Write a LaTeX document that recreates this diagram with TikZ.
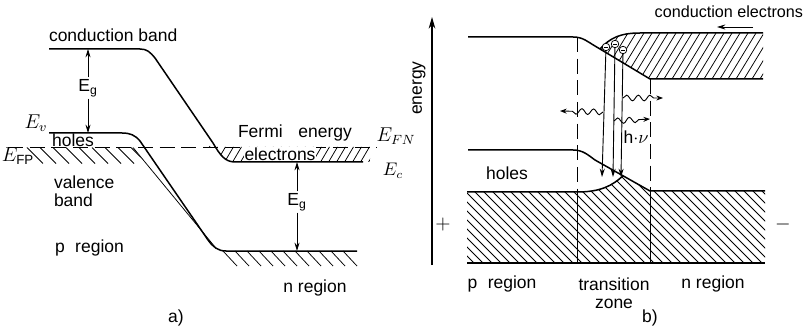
\documentclass[tikz,border=0pt]{standalone}
\usepackage{amsmath,amssymb}
\usepackage{fontspec}
\setsansfont{Liberation Sans}
\usepackage{tikz}
\usetikzlibrary{arrows.meta,calc,decorations.pathmorphing}

\begin{document}
\begin{tikzpicture}[x=0.6pt,y=-0.6pt,
    font=\sffamily\fontsize{10.5}{11}\selectfont,
    band/.style={line width=0.9pt},
    hatchline/.style={line width=0.45pt},
    fermi/.style={line width=0.55pt,dash pattern=on 9pt off 4pt},
    egarrow/.style={-{Stealth[length=5pt,width=3pt]},line width=0.55pt},
    lbl/.style={inner sep=1pt},
    photon/.style={decorate,decoration={snake,amplitude=1.7pt,segment length=7pt,post length=4pt},
      -{Stealth[length=4pt,width=3pt]},line width=0.55pt},
    electron/.style={circle,draw,fill=white,minimum size=4.5pt,inner sep=0pt,line width=0.45pt,
      path picture={\draw[line width=0.4pt]
        ($(path picture bounding box.west)!0.25!(path picture bounding box.east)$) --
        ($(path picture bounding box.west)!0.75!(path picture bounding box.east)$);}}]
      \useasboundingbox (0,0) rectangle (809,330);

      % ---- a) ----
      \draw[fermi] (8,147) -- (377,147);
      \begin{scope}
        \clip (20,147.5) -- (133,147.5) -- (150,170) -- (20,170) -- cycle;
        \foreach \x in {27,40,...,140} \draw[hatchline] (\x,147.5) -- ++(16,16);
      \end{scope}
      \draw[hatchline] (133,147.5) -- (215,247);
      \foreach \x in {223,235,...,347} \draw[hatchline] (\x,251) -- ++(14,15);
      \begin{scope}
        \clip (205,147) -- (370,147) -- (370,162) -- (235,162) .. controls (225,162) and (219,155) .. (213,143) -- cycle;
        \foreach \x in {200,208,...,370} \draw[hatchline] (\x,163) -- ++(10,-17);
      \end{scope}
      \draw[band] (49,49) -- (140,49) .. controls (147,49) and (150,52) .. (155,58) -- (213,143)
        .. controls (220,155) and (225,162) .. (235,162) -- (363,162);
      \draw[band] (49,133) -- (122,133) .. controls (130,133) and (135,135) .. (140,141) -- (208,240)
        .. controls (213,247) and (218,251) .. (226,251) -- (357,251);

      \node[lbl,anchor=west] (cband) at (47,35) {conduction band};
      \coordinate (cbp) at (88,49);
      \coordinate (vbp) at (88,133);
      \node[lbl] (egp) at (88,88) {E\textsubscript{g}};
      \draw[egarrow] (egp) -- (cbp);
      \draw[egarrow] (egp) -- (vbp);
      \node (ev) at (36,123) {\large$E_v$};
      \node[lbl] (holesa) at (73,140) {holes};
      \node (efp) at (18,156) {\large$E_{\mathsf{FP}}$};
      \node[lbl,anchor=west,align=left] (vband) at (52,191) {valence\\band};
      \node[lbl,anchor=west] (prega) at (53,248) {p\hspace{0.6em}region};
      \node[lbl] (fenergy) at (295,133) {Fermi\hspace{0.9em}energy};
      \node[lbl,fill=white,inner sep=0.3pt] (elec) at (280,154) {electrons};
      \node (efn) at (396,136) {\large$E_{FN}$};
      \node (ec) at (393,171) {$E_c$};
      \coordinate (cbn) at (297,162);
      \coordinate (vbn) at (297,251);
      \node[lbl] (egn) at (297,202) {E\textsubscript{g}};
      \draw[egarrow] (egn) -- (cbn);
      \draw[egarrow] (egn) -- (vbn);
      \node[lbl] (nrega) at (315,288) {n region};
      \node (capa) at (176,318) {a)};

      % ---- b) ----
      \coordinate (axbot) at (432,265);
      \coordinate (axtop) at (432,17);
      \draw[-{Stealth[length=7pt,width=4pt]},line width=0.65pt] (axbot) -- (axtop);
      \node[rotate=90] (energy) at (419,88) {energy};

      \begin{scope}
        \clip (600,49) .. controls (610,38) and (620,33) .. (640,33) -- (763,33) -- (763,79) -- (650,79) -- cycle;
        \foreach \x in {560,568,...,770} \draw[hatchline] (\x,79) -- ++(28,-46);
      \end{scope}
      \begin{scope}
        \clip (467,192) -- (577,192) .. controls (600,192) and (612,186) .. (623,175.8) -- (650,191)
          -- (765,191) -- (765,263) -- (467,263) -- cycle;
        \foreach \x in {370,379,...,770} \draw[hatchline] (\x,168) -- ++(97,97);
      \end{scope}

      \draw[band] (468,37) -- (573,37) .. controls (583,37) and (588,42) .. (595,46) -- (650,79) -- (763,79);
      \draw[band] (600,49) .. controls (610,38) and (620,33) .. (640,33) -- (763,33);
      \draw[band] (468,150) -- (573,150) .. controls (583,150) and (588,155) .. (595,160) -- (650,191) -- (765,191);
      \draw[band] (467,192) -- (577,192) .. controls (600,192) and (612,186) .. (623,175.8);
      \draw[band] (467,263) -- (765,263);

      \draw[fermi] (577,37) -- (577,192);
      \draw[hatchline] (577,192) -- (577,263);
      \draw[fermi] (650,79) -- (650,191);
      \draw[hatchline] (650,191) -- (650,263);

      \node[electron] (e1) at (606,47) {};
      \node[electron] (e2) at (615,44) {};
      \node[electron] (e3) at (623,50) {};
      \coordinate (h1) at (602,177);
      \coordinate (h2) at (613,177);
      \coordinate (h3) at (621,177);
      \draw[egarrow] (e1) -- (h1);
      \draw[egarrow] (e2) -- (h2);
      \draw[egarrow] (e3) -- (h3);

      \coordinate (p1s) at (603,112);
      \coordinate (p1e) at (560,111);
      \coordinate (p2s) at (623,98);
      \coordinate (p2e) at (663,98);
      \coordinate (p3s) at (614,121);
      \coordinate (p3e) at (650,119);
      \draw[photon] (p1s) -- (p1e);
      \draw[photon] (p2s) -- (p2e);
      \draw[photon] (p3s) -- (p3e);
      \node[lbl] (hnu) at (636,137) {h$\cdot\nu$};

      \node[lbl,anchor=east,font=\sffamily\fontsize{9.7}{11}\selectfont] (celec) at (805,12) {conduction electrons};
      \coordinate (cea) at (753,27);
      \coordinate (ceb) at (717,27);
      \draw[egarrow] (cea) -- (ceb);

      \node[lbl] (holesb) at (507,173) {holes};
      \node (plus) at (443,224) {\large$+$};
      \node (minus) at (783,224) {\large$-$};
      \node[lbl] (pregb) at (502,284) {p\hspace{0.6em}region};
      \node[lbl,align=center] (tzone) at (614,293) {transition\\zone};
      \node[lbl] (nregb) at (713,284) {n region};
      \node (capb) at (650,318) {b)};
\end{tikzpicture}
\end{document}
